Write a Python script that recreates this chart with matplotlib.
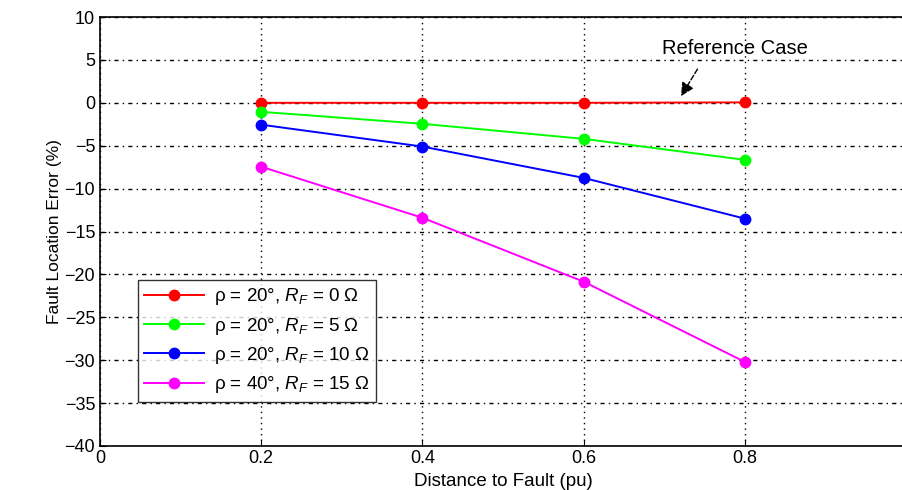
import matplotlib.pyplot as plt

plt.rcParams['font.family'] = ['Liberation Sans', 'DejaVu Sans']
plt.rcParams['mathtext.fontset'] = 'custom'
plt.rcParams['mathtext.rm'] = 'Liberation Sans'
plt.rcParams['mathtext.it'] = 'Liberation Sans:italic'

distance = [0.2, 0.4, 0.6, 0.8]
err_rf0 = [0.0, 0.0, 0.0, 0.05]
err_rf5 = [-1.05, -2.45, -4.2, -6.65]
err_rf10 = [-2.55, -5.1, -8.75, -13.5]
err_rf15 = [-7.45, -13.4, -20.85, -30.2]
labels = [r'ρ = 20°, $R_F$ = 0 Ω', r'ρ = 20°, $R_F$ = 5 Ω',
          r'ρ = 20°, $R_F$ = 10 Ω', r'ρ = 40°, $R_F$ = 15 Ω']
colors = ['#ff0000', '#00ff00', '#0000ff', '#ff00ff']

fig = plt.figure(figsize=(9.02, 4.90), dpi=100)
ax = fig.add_axes([0.1109, 0.0898, 0.8936, 0.8755])

for ys, lab, col in zip([err_rf0, err_rf5, err_rf10, err_rf15], labels, colors):
    ax.plot(distance, ys, '-o', color=col, lw=1.4, ms=7.5, label=lab)

ax.set_xlim(0, 1)
ax.set_ylim(-40, 10)
ax.set_xticks([0, 0.2, 0.4, 0.6, 0.8, 1])
ax.set_xticklabels(['0', '0.2', '0.4', '0.6', '0.8', '1'])
ax.set_yticks(range(-40, 11, 5))
ax.tick_params(labelsize=13, direction='in', length=4)
ax.tick_params(axis='x', pad=3)
ax.xaxis.grid(True, color='black', linestyle=(0, (1, 3)), lw=1.0)
ax.yaxis.grid(True, color='black', linestyle=(0, (3, 3, 1, 3)), lw=1.0)
for s in ax.spines.values():
    s.set_linewidth(1.2)

ax.set_xlabel('Distance to Fault (pu)', fontsize=13.5, labelpad=4)
ax.set_ylabel('Fault Location Error (%)', fontsize=12.5, labelpad=2)

ax.annotate('', xy=(0.719, 0.5), xytext=(0.743, 4.2),
            arrowprops=dict(arrowstyle='-|>', color='black', lw=1.0,
                            linestyle='--', mutation_scale=20))
ax.text(0.788, 6.3, 'Reference Case', ha='center', va='center', fontsize=14.5)

leg = ax.legend(loc='lower left', bbox_to_anchor=(0.047, 0.1026), borderaxespad=0,
                fontsize=13.5, frameon=True, fancybox=False, edgecolor='black',
                handlelength=3.2, handletextpad=0.5, borderpad=0.35,
                labelspacing=0.45)
leg.get_frame().set_linewidth(1.0)

fig.savefig('out.png', dpi=100)
